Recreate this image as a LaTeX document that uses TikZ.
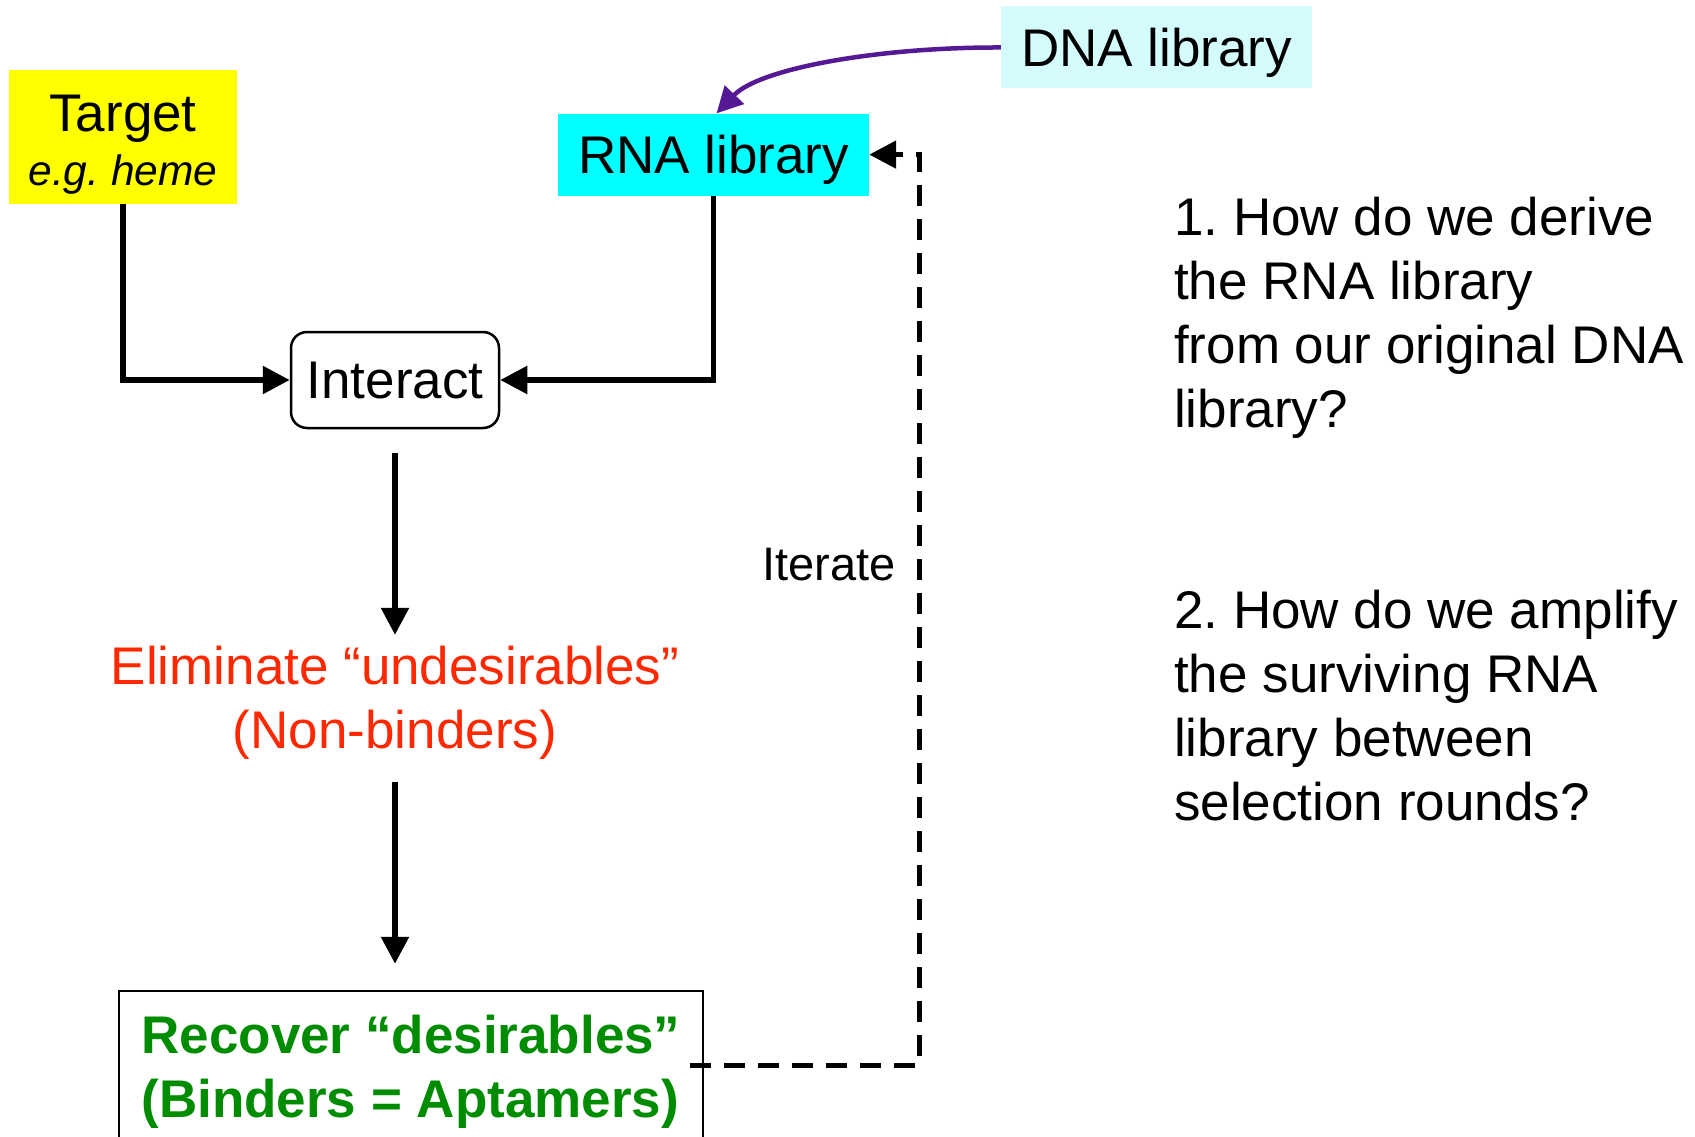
\documentclass[tikz,border=0pt]{standalone}
\usepackage{fontspec}
\setmainfont{Liberation Sans}
\usepackage{tikz}
\usetikzlibrary{arrows.meta}
\usetikzlibrary{positioning}
\usetikzlibrary{calc}
\frenchspacing

\definecolor{targetyellow}{RGB}{255,255,0}
\definecolor{rnacyan}{RGB}{0,255,255}
\definecolor{dnacyan}{RGB}{212,252,252}
\definecolor{elimred}{RGB}{255,40,0}
\definecolor{recgreen}{RGB}{0,140,0}
\definecolor{dnapurple}{RGB}{85,25,150}

\begin{document}
\begin{tikzpicture}[x=1pt, y=-1pt,
   txt/.style={font=\fontsize{53}{64}\selectfont, inner sep=0pt},
   libbox/.style={txt, minimum width=311pt, minimum height=82pt, text depth=0pt},
   flow/.style={line width=5.5pt, -{Triangle[length=27pt,width=27pt]}},
   iterline/.style={line width=5pt, dash pattern=on 21pt off 13pt, -{Triangle[length=27pt,width=27pt]}}]

  \useasboundingbox (0,0) rectangle (1695,1137);

	%boxes
  \node[txt, fill=targetyellow, align=center, minimum width=228pt, minimum height=134pt] (target) at (123,137)
       {\rule{0pt}{51pt}Target\\[-10pt]{\fontsize{42.5}{51}\selectfont\itshape e.g. heme}};
  \node[libbox, fill=rnacyan] (rna) at (713.5,154.6) {RNA library};
  \node[libbox, fill=dnacyan] (dna) at (1156.5,47.5) {DNA library};
  \node[txt, draw, line width=2.5pt, rounded corners=16pt, minimum width=208pt, minimum height=96pt, text depth=0pt] (interact) at (395,380) {Interact};
  \node[txt, text=elimred, align=center, minimum height=136pt] (elim) at (395,703) {Eliminate “undesirables”\\(Non-binders)};
  \node[txt, draw, line width=2.5pt, text=recgreen, font=\fontsize{53}{64}\selectfont\bfseries, align=left, minimum width=584pt, minimum height=162pt] (recover) at (411,1072)
       {Recover “desirables”\\(Binders = Aptamers)};

	%arrows
  \draw[flow] (target.south) |- (interact.west);
  \draw[flow] (rna.south) |- (interact.east);
  \draw[flow, shorten <=24pt] (interact.south) -- (elim.north);
  \draw[flow, shorten <=11pt, shorten >=26pt] (elim.south) -- (elim.south |- recover.north);
  \draw[line width=4.5pt, dnapurple, -{Triangle[length=26pt,width=26pt]}] (dna.west) .. controls (880,47) and (760,68) .. ($(rna.north)+(3,0)$);

	%iterate loop
  \draw[iterline] ($(recover.east)+(-14,-7)$) -- ++(229,0) |- (rna.east);
  \node[font=\fontsize{47}{56}\selectfont, inner sep=0pt, anchor=east] (iterate) at (896,565) {Iterate};

	%questions
  \node[txt, align=left, anchor=north west] (q1) at (1174,197) {1. How do we derive\\the RNA library\\from our original DNA\\library?};
  \node[txt, align=left, anchor=north west] (q2) at (1174,590) {2. How do we amplify\\the surviving RNA\\library between\\selection rounds?};

\end{tikzpicture}
\end{document}
